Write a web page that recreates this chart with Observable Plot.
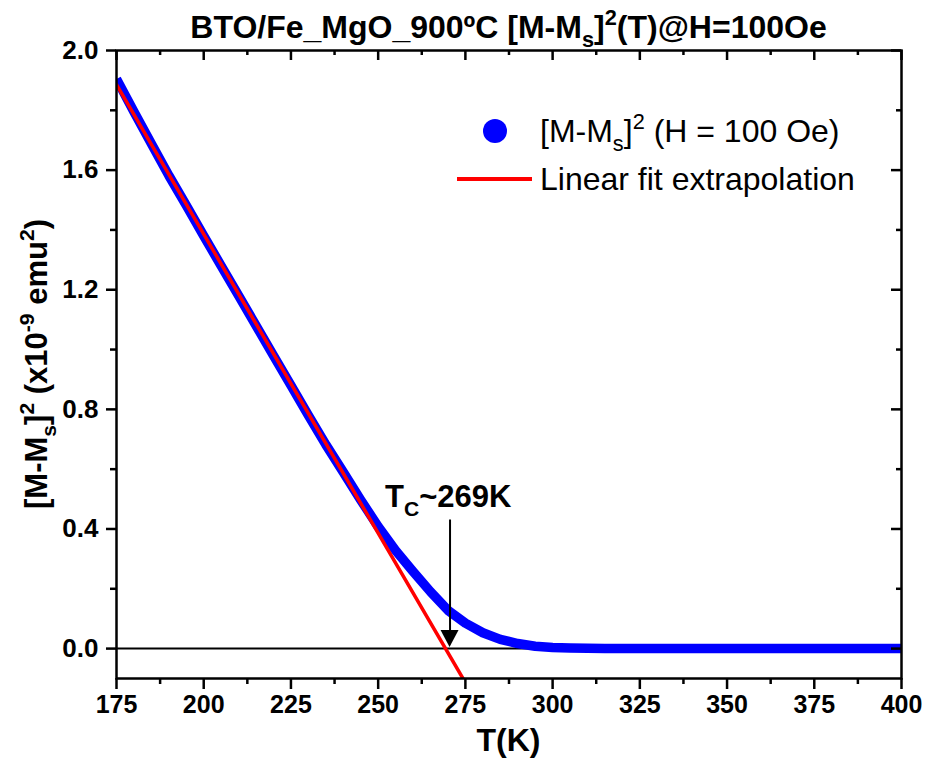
<!DOCTYPE html>
<html><head><meta charset="utf-8">
<script src="https://cdn.jsdelivr.net/npm/d3@7"></script>
<script src="https://cdn.jsdelivr.net/npm/@observablehq/plot@0.6"></script>
<style>
body{margin:0;background:#fff}
#chart{width:926px;height:758px}
</style>
</head><body><div id="chart"></div>
<script>
// ---- data ----
const temps = [175,180,185,190,195,200,205,210,215,220,225,230,235,240,245,250,255,260,265,270,275,280,285,290,295,300,305,310,315,320,330,340,350,360,370,380,390,400];
const msq   = [1.905,1.795,1.688,1.582,1.482,1.380,1.280,1.180,1.080,0.980,0.880,0.780,0.682,0.590,0.497,0.408,0.328,0.258,0.190,0.128,0.085,0.053,0.031,0.017,0.008,0.004,0.002,0.001,0.0005,0,0,0,0,0,0,0,0,0];
const fitT = [175, 274.3];
const fitV = [1.886, -0.1];
const tcT = 270.6;          // arrow position
const tcTop = 0.43;         // top of arrow shaft
const xTicks = [175,200,225,250,275,300,325,350,375,400];
const xMinor = [187.5,212.5,237.5,262.5,287.5,312.5,337.5,362.5,387.5];
const yTicks = [0,0.4,0.8,1.2,1.6,2.0];
const yMinor = [0.2,0.6,1.0,1.4,1.8];

const blue = temps.map((t,i)=>({t, v: msq[i]}));
const red  = fitT.map((t,i)=>({t, v: fitV[i]}));

const W = 926, H = 758;
const mL = 116, mR = 25, mT = 50, mB = 80;
const innerW = W - mL - mR, innerH = H - mT - mB;
const FONT = "'Liberation Sans', Arial, sans-serif";

const plot = Plot.plot({
  width: W, height: H,
  marginLeft: mL, marginRight: mR, marginTop: mT, marginBottom: mB,
  style: {fontFamily: FONT, color: "#000", background: "#fff", overflow: "visible"},
  x: {domain: [175, 400]},
  y: {domain: [-0.1, 2.0]},
  marks: [
    Plot.ruleY([0], {stroke: "#000", strokeWidth: 2}),
    Plot.line(blue, {x: "t", y: "v", stroke: "#0000ff", strokeWidth: 9.5, strokeLinecap: "butt", strokeLinejoin: "round", clip: true}),
    Plot.line(red, {x: "t", y: "v", stroke: "#ff0000", strokeWidth: 3.5, clip: true}),
    Plot.ruleX([tcT], {y1: 0.05, y2: tcTop, stroke: "#000", strokeWidth: 2}),
    // outward ticks bottom / left
    Plot.axisX(xTicks, {anchor: "bottom", tickSize: 11, tickPadding: 6, strokeWidth: 2.5, fontSize: 25, fontWeight: "bold", label: null, tickFormat: d => String(d)}),
    Plot.axisX(xMinor, {anchor: "bottom", tickSize: 6, strokeWidth: 2.5, tickFormat: () => "", label: null}),
    Plot.axisY(yTicks, {anchor: "left", tickSize: 10, tickPadding: 8, strokeWidth: 2.5, fontSize: 26, fontWeight: "bold", label: null, tickFormat: d => d.toFixed(1)}),
    Plot.axisY(yMinor, {anchor: "left", tickSize: 6, strokeWidth: 2.5, tickFormat: () => "", label: null}),
    // inward ticks top / right
    Plot.tickX(xTicks, {x: d => d, insetBottom: innerH - 10, stroke: "#000", strokeWidth: 2.5}),
    Plot.tickX(xMinor, {x: d => d, insetBottom: innerH - 5, stroke: "#000", strokeWidth: 2.5}),
    Plot.tickY(yTicks, {y: d => d, insetLeft: innerW - 10, stroke: "#000", strokeWidth: 2.5}),
    Plot.tickY(yMinor, {y: d => d, insetLeft: innerW - 5, stroke: "#000", strokeWidth: 2.5}),
    Plot.frame({stroke: "#000", strokeWidth: 2.5})
  ]
});

document.getElementById("chart").appendChild(plot);
const svg = d3.select(plot);
const xs = plot.scale("x"), ys = plot.scale("y");

// arrow head
const ax = xs.apply(tcT), ay = ys.apply(0);
svg.append("path")
  .attr("d", `M${ax-9},${ay-18}L${ax+9},${ay-18}L${ax},${ay-1}Z`)
  .attr("fill", "#000");

function rich(sel, parts, size) {
  let cur = 0;
  for (const p of parts) {
    let off = 0, fs = null;
    if (p.sub) { off = 0.28 * size; fs = 0.68 * size; }
    if (p.sup) { off = -0.42 * size; fs = 0.68 * size; }
    const ts = sel.append("tspan").text(p.t).attr("dy", off - cur);
    if (fs) ts.attr("font-size", fs);
    cur = off;
  }
}
function txt(x, y, size, bold, anchor) {
  return svg.append("text").attr("x", x).attr("y", y)
    .attr("text-anchor", anchor).attr("font-family", FONT)
    .attr("font-weight", bold ? "bold" : "normal")
    .attr("font-size", size).attr("fill", "#000");
}

// title
rich(txt(mL + innerW/2, 38, 32, true, "middle"),
  [{t:"BTO/Fe_MgO_900ºC [M-M"},{t:"s",sub:true},{t:"]"},{t:"2",sup:true},{t:"(T)@H=100Oe"}], 32);

// x label
txt(mL + innerW/2, 751, 32, true, "middle").text("T(K)");

// y label
const ylab = svg.append("text")
  .attr("transform", `translate(47,${mT + innerH/2}) rotate(-90)`)
  .attr("text-anchor", "middle").attr("font-family", FONT)
  .attr("font-weight", "bold").attr("font-size", 31).attr("fill", "#000");
rich(ylab, [{t:"[M-M"},{t:"s",sub:true},{t:"]"},{t:"2",sup:true},{t:" (x10"},{t:"-9",sup:true},{t:" emu"},{t:"2",sup:true},{t:")"}], 31);

// annotation
rich(txt(385, 507, 31, true, "start"), [{t:"T"},{t:"C",sub:true},{t:"~269K"}], 31);

// legend
svg.append("circle").attr("cx", 495).attr("cy", 131).attr("r", 12).attr("fill", "#0000ff");
rich(txt(540, 142, 32, false, "start"),
  [{t:"[M-M"},{t:"s",sub:true},{t:"]"},{t:"2",sup:true},{t:" (H = 100 Oe)"}], 32);
svg.append("line").attr("x1", 457).attr("x2", 532).attr("y1", 179).attr("y2", 179)
  .attr("stroke", "#ff0000").attr("stroke-width", 4);
txt(540, 190, 32, false, "start").text("Linear fit extrapolation");
</script>
</body></html>
